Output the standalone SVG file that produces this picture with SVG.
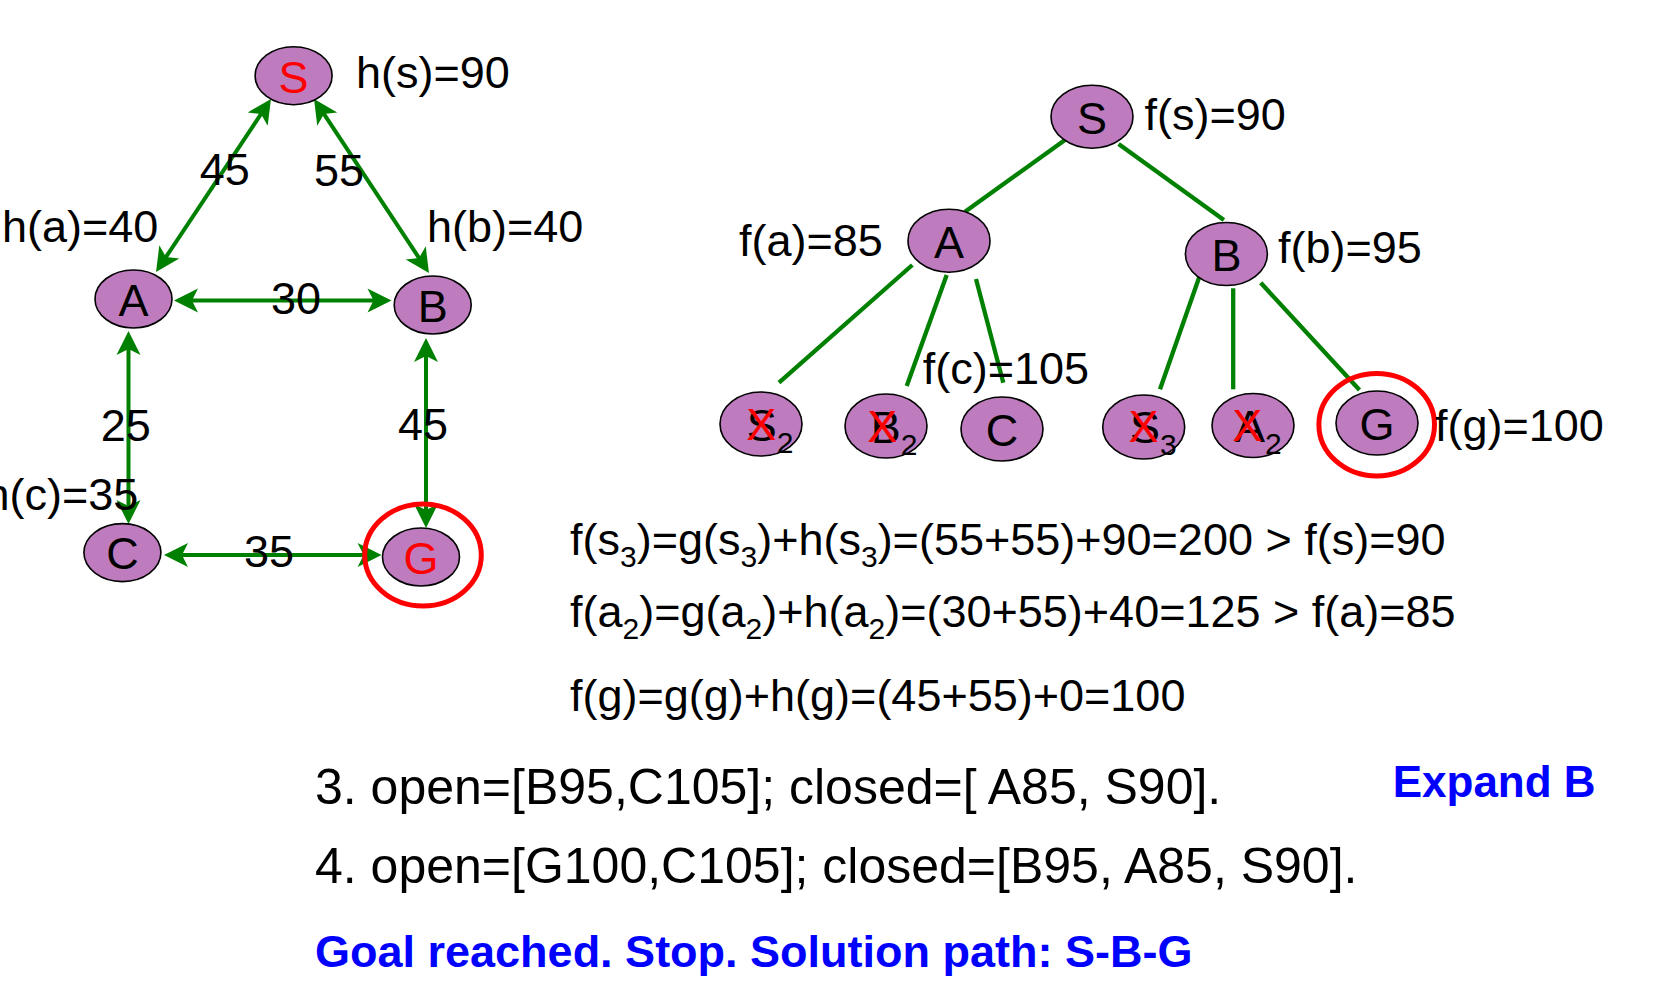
<svg xmlns="http://www.w3.org/2000/svg" width="1660" height="1002" viewBox="0 0 1660 1002">
<style>
text{font-family:"Liberation Sans",Arial,sans-serif;fill:#000}
.n{fill:#BE7CBE;stroke:#000;stroke-width:1.6}
.t{font-size:45px}
.c{text-anchor:middle}
.red{fill:#FF0000}
.e{stroke:#008000;stroke-width:4;fill:none}
.te{stroke:#008000;stroke-width:4.3;fill:none}
.ring{fill:none;stroke:#FF0000;stroke-width:5}
.f{font-size:45px}
.l{font-size:50px}
.b{font-size:45px;font-weight:bold;fill:#0000FF}
</style>
<defs>
<marker id="arr" viewBox="-30 -13 31 26" refX="-5" refY="0" markerWidth="31" markerHeight="26" markerUnits="userSpaceOnUse" orient="auto-start-reverse">
<path d="M0,0 L-24,-12 L-18,0 L-24,12 Z" fill="#008000"/>
</marker>
</defs>
<rect width="1660" height="1002" fill="#fff"/>

<g id="connectors">
<line class="e" x1="268.2" y1="103.2" x2="158.8" y2="267.8" marker-start="url(#arr)" marker-end="url(#arr)"/>
<line class="e" x1="316.8" y1="103.2" x2="426.2" y2="268.8" marker-start="url(#arr)" marker-end="url(#arr)"/>
<line class="e" x1="179" y1="300.5" x2="386.5" y2="300.5" marker-start="url(#arr)" marker-end="url(#arr)"/>
<line class="e" x1="128.5" y1="336" x2="128.5" y2="519" marker-start="url(#arr)" marker-end="url(#arr)"/>
<line class="e" x1="426" y1="343" x2="426" y2="523" marker-start="url(#arr)" marker-end="url(#arr)"/>
<line class="e" x1="169" y1="555" x2="376.6" y2="555" marker-start="url(#arr)" marker-end="url(#arr)"/>
<line class="te" x1="1066" y1="139.3" x2="965" y2="211.7"/>
<line class="te" x1="1118.6" y1="144" x2="1223.9" y2="220"/>
<line class="te" x1="912.3" y1="265" x2="779" y2="382.7"/>
<line class="te" x1="946.7" y1="275" x2="906.7" y2="386"/>
<line class="te" x1="976" y1="279" x2="1003.3" y2="382.7"/>
<line class="te" x1="1199.2" y1="277.3" x2="1160" y2="389.3"/>
<line class="te" x1="1233.2" y1="288.3" x2="1233.2" y2="389.3"/>
<line class="te" x1="1260.7" y1="282.7" x2="1359.5" y2="390"/>
</g>

<g id="edge-labels">
<text class="t" x="199.7" y="184.7">45</text>
<text class="t" x="314" y="185.8">55</text>
<text class="t" x="271" y="313.5">30</text>
<text class="t" x="100.8" y="441">25</text>
<text class="t" x="398" y="440">45</text>
<text class="t" x="244" y="567.4">35</text>
</g>

<g id="g-S">
<ellipse class="n" cx="293.6" cy="75.7" rx="38.5" ry="29"/>
<text class="t c red" x="293.6" y="92.5">S</text>
<text class="t" x="356" y="87.8">h(s)=90</text>
</g>
<g id="g-A">
<ellipse class="n" cx="133.5" cy="299" rx="38.5" ry="29"/>
<text class="t c" x="133.5" y="315.5">A</text>
<text class="t" x="2" y="242">h(a)=40</text>
</g>
<g id="g-B">
<ellipse class="n" cx="432.7" cy="305" rx="38.5" ry="29"/>
<text class="t c" x="432.7" y="321.5">B</text>
<text class="t" x="427" y="242">h(b)=40</text>
</g>
<g id="g-C">
<ellipse class="n" cx="122.4" cy="552.6" rx="38.5" ry="29"/>
<text class="t c" x="122.4" y="569">C</text>
<text class="t" x="138.4" y="510" text-anchor="end">h(c)=35</text>
</g>
<g id="g-G">
<ellipse class="n" cx="421" cy="557" rx="38.5" ry="29"/>
<text class="t c red" x="421" y="573.5">G</text>
<ellipse class="ring" cx="423" cy="555" rx="58.3" ry="51"/>
</g>

<g id="t-S">
<ellipse class="n" cx="1092" cy="116.7" rx="41" ry="31.5"/>
<text class="t c" x="1092" y="133.5">S</text>
<text class="f" x="1144.6" y="130">f(s)=90</text>
</g>
<g id="t-A">
<ellipse class="n" cx="949" cy="240.7" rx="41" ry="31.5"/>
<text class="t c" x="949" y="257.5">A</text>
<text class="f" x="739" y="256">f(a)=85</text>
</g>
<g id="t-B">
<ellipse class="n" cx="1226.4" cy="254" rx="41" ry="31.5"/>
<text class="t c" x="1226.4" y="270.5">B</text>
<text class="f" x="1278" y="263">f(b)=95</text>
</g>
<g id="t-S2">
<ellipse class="n" cx="761" cy="424" rx="41" ry="32"/>
<text class="t" x="746.7" y="441">S<tspan font-size="30" dy="12">2</tspan></text>
<text class="t c red" x="761.3" y="440">X</text>
</g>
<g id="t-B2">
<ellipse class="n" cx="886" cy="426" rx="41" ry="32"/>
<text class="t" x="870.7" y="443">B<tspan font-size="30" dy="12">2</tspan></text>
<text class="t c red" x="882.3" y="442">X</text>
</g>
<g id="t-C">
<ellipse class="n" cx="1002" cy="429" rx="41" ry="32"/>
<text class="t c" x="1002" y="446">C</text>
<text class="f" x="922.7" y="384">f(c)=105</text>
</g>
<g id="t-S3">
<ellipse class="n" cx="1143.7" cy="427" rx="41" ry="32"/>
<text class="t" x="1130" y="443">S<tspan font-size="30" dy="12">3</tspan></text>
<text class="t c red" x="1143.5" y="442">X</text>
</g>
<g id="t-A2">
<ellipse class="n" cx="1253" cy="425.5" rx="41" ry="32"/>
<text class="t" x="1235" y="442">A<tspan font-size="30" dy="12">2</tspan></text>
<text class="t c red" x="1247.3" y="441">X</text>
</g>
<g id="t-G">
<ellipse class="n" cx="1377" cy="423" rx="41" ry="32"/>
<text class="t c" x="1377" y="440">G</text>
<ellipse class="ring" cx="1376.7" cy="424.7" rx="57.8" ry="51.3"/>
<text class="f" x="1435" y="441">f(g)=100</text>
</g>

<g id="formulas">
<text class="f" x="570" y="555">f(s<tspan font-size="30" dy="12">3</tspan><tspan dy="-12">)=g(s</tspan><tspan font-size="30" dy="12">3</tspan><tspan dy="-12">)+h(s</tspan><tspan font-size="30" dy="12">3</tspan><tspan dy="-12">)=(55+55)+90=200 &gt; f(s)=90</tspan></text>
<text class="f" x="570" y="626.7">f(a<tspan font-size="30" dy="12">2</tspan><tspan dy="-12">)=g(a</tspan><tspan font-size="30" dy="12">2</tspan><tspan dy="-12">)+h(a</tspan><tspan font-size="30" dy="12">2</tspan><tspan dy="-12">)=(30+55)+40=125 &gt; f(a)=85</tspan></text>
<text class="f" x="570" y="710.7">f(g)=g(g)+h(g)=(45+55)+0=100</text>
</g>

<g id="steps">
<text class="l" x="315" y="804.3">3. open=[B95,C105]; closed=[ A85, S90].</text>
<text class="l" x="315" y="882.7">4. open=[G100,C105]; closed=[B95, A85, S90].</text>
<text class="b" x="1392.7" y="797.3" style="font-size:44px">Expand B</text>
<text class="b" x="315" y="966.7">Goal reached. Stop. Solution path: S-B-G</text>
</g>
</svg>
